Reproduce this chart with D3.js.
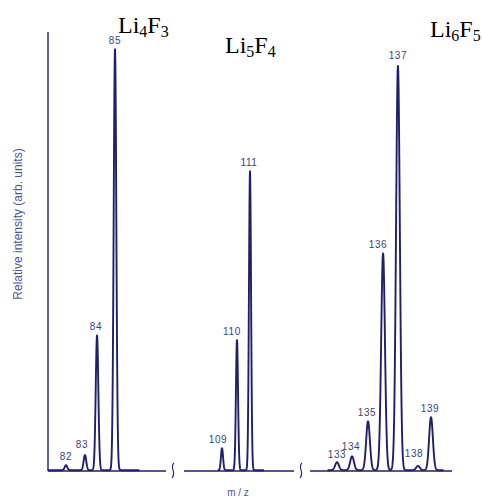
<!DOCTYPE html>
<html>
<head>
<meta charset="utf-8">
<script src="https://cdn.jsdelivr.net/npm/d3@7"></script>
<style>
html,body{margin:0;padding:0;background:#fff;}
svg{display:block;}
</style>
</head>
<body>
<svg id="chart" width="482" height="503"></svg>
<script>
// ---- data ----
// cluster names (formula parts)
const clusterNames = [["Li","4","F","3"],["Li","5","F","4"],["Li","6","F","5"]];
// nominal m/z labels per cluster
const labels1 = ["82","83","84","85"];
const labels2 = ["109","110","111"];
const labels3 = ["133","134","135","136","137","138","139"];
// observed peak centres (m/z) per cluster
const mz1 = [82.0, 83.16, 83.9, 85.0];
const mz2 = [109.0, 110.07, 111.0];
const mz3 = [133.0, 133.96, 134.98, 135.94, 136.89, 138.17, 139.0];
// relative intensities (0-100)
const int1 = [1.2, 3.6, 32, 100];
const int2 = [5.2, 30.9, 71];
const int3 = [1.9, 3.3, 11.6, 51.5, 96, 1.0, 12.6];
// visible m/z range of each spectrum trace
const range1 = [80.9, 86.5];
const range2 = [108.7, 112.0];
const range3 = [132.4, 139.8];

const svg = d3.select("#chart");
const ink = "#1f1f6b";
const labCol = "#3b3f7a";

const y = d3.scaleLinear().domain([0, 100]).range([471, 50]);

// per-panel x scales
const panels = [
  {mz: mz1, it: int1, lab: labels1, rng: range1, sigma: 0.08,
   x: d3.scaleLinear().domain([82, 85]).range([66, 115]),
   labDy: [-6,-8,-6,-6], labDx:[0,-3,-1,0]},
  {mz: mz2, it: int2, lab: labels2, rng: range2, sigma: 0.075,
   x: d3.scaleLinear().domain([109, 111]).range([222, 250]),
   labDy: [-6,-6,-6], labDx:[-4,-5,-1]},
  {mz: mz3, it: int3, lab: labels3, rng: range3, sigma: 0.12,
   x: d3.scaleLinear().domain([133, 139]).range([337, 431]),
   labDy: [-5,-7,-6,-6,-8,-10,-6], labDx:[0,-1,-1,-5,0,-4,-1]}
];

// baseline segments with break marks
const base = svg.append("g").attr("stroke", ink).attr("stroke-width", 1.4).attr("fill","none");
base.append("line").attr("x1",48).attr("x2",48).attr("y1",32).attr("y2",y(0));
[[48,166],[184,294],[310,452]].forEach(s=>{
  base.append("line").attr("x1",s[0]).attr("x2",s[1]).attr("y1",y(0)).attr("y2",y(0));
});
[173, 301].forEach(cx=>{
  base.append("path").attr("stroke-width",1.1)
    .attr("d", `M${cx+1},${y(0)-8} C${cx-4},${y(0)-4} ${cx+4},${y(0)+1} ${cx-1},${y(0)+7}`);
});

// spectra
panels.forEach(p=>{
  const xs = d3.range(p.rng[0], p.rng[1], 0.01);
  const pts = xs.map(m=>{
    let v = 0;
    p.mz.forEach((c,i)=>{ const d=(m-c)/p.sigma; v += p.it[i]*Math.exp(-0.5*d*d); });
    return [m, v];
  });
  const line = d3.line().x(d=>p.x(d[0])).y(d=>y(d[1]) - 0.8);
  svg.append("path").datum(pts).attr("d", line)
    .attr("fill","none").attr("stroke", ink).attr("stroke-width", 1.9)
    .attr("stroke-linejoin","round");
  svg.append("g").selectAll("text").data(p.lab).join("text")
    .attr("x",(d,i)=>p.x(p.mz[i]) + p.labDx[i])
    .attr("y",(d,i)=>y(p.it[i]) + p.labDy[i])
    .attr("text-anchor","middle")
    .attr("font-family","Liberation Sans, Arial, sans-serif")
    .attr("font-size",10).attr("letter-spacing",0.6)
    .attr("fill",labCol).text(d=>d);
});

// cluster titles
const titlePos = [[118,33],[225,53],[430,37]];
clusterNames.forEach((n,i)=>{
  const t = svg.append("text").attr("x",titlePos[i][0]).attr("y",titlePos[i][1])
    .attr("font-family","Liberation Serif, Times New Roman, serif")
    .attr("font-size",24).attr("fill","#000");
  t.append("tspan").text(n[0]);
  t.append("tspan").attr("font-size",16).attr("dy",4).text(n[1]);
  t.append("tspan").attr("dy",-4).text(n[2]);
  t.append("tspan").attr("font-size",16).attr("dy",4).text(n[3]);
});

// axis titles
svg.append("text").attr("transform","translate(22,224) rotate(-90)")
  .attr("text-anchor","middle").attr("font-family","Liberation Sans, Arial, sans-serif")
  .attr("font-size",12).attr("fill","#4a5595").text("Relative intensity (arb. units)");
svg.append("text").attr("x",238).attr("y",496).attr("text-anchor","middle")
  .attr("font-family","Liberation Sans, Arial, sans-serif")
  .attr("font-size",10).attr("fill","#4a5595").text("m / z");
</script>
</body>
</html>
